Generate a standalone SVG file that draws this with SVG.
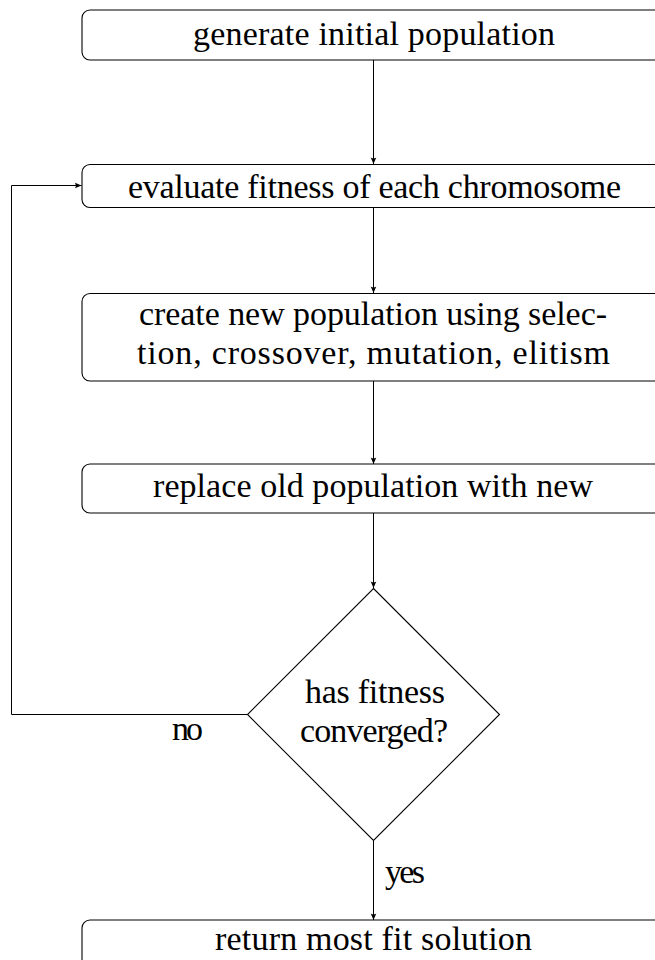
<svg xmlns="http://www.w3.org/2000/svg" width="655" height="960" viewBox="0 0 655 960">
<style>
.box{fill:#fff;stroke:#000;stroke-width:1.1}
.t{font-family:'Liberation Serif','Times New Roman',Times,serif;font-size:34px;fill:#000}
.c{fill:none;stroke:#000;stroke-width:1}
</style>
<defs>
<marker id="ah" markerWidth="10" markerHeight="8" viewBox="-7 -4 8 8" refX="0" refY="0" orient="auto" markerUnits="userSpaceOnUse">
<path d="M0,0 L-6.5,-2.8 Q-4.8,0 -6.5,2.8 Z" fill="#000"/>
</marker>
</defs>
<rect width="655" height="960" fill="#fff"/>
<g id="connectors">
<line class="c" x1="373.5" y1="60" x2="373.5" y2="164" marker-end="url(#ah)"/>
<line class="c" x1="373.5" y1="207" x2="373.5" y2="293" marker-end="url(#ah)"/>
<line class="c" x1="373.5" y1="381" x2="373.5" y2="464" marker-end="url(#ah)"/>
<line class="c" x1="373.5" y1="513" x2="373.5" y2="588" marker-end="url(#ah)"/>
<line class="c" x1="373.5" y1="841" x2="373.5" y2="920" marker-end="url(#ah)"/>
<polyline class="c" points="247,714.5 11.5,714.5 11.5,185.5 81.5,185.5" marker-end="url(#ah)"/>
<text class="t" x="172" y="740" textLength="31">no</text>
<text class="t" x="385" y="883" textLength="40">yes</text>
</g>
<g id="n1">
<rect class="box" x="82" y="10" width="583" height="50" rx="8"/>
<text class="t" x="193" y="45" textLength="362">generate initial population</text>
</g>
<g id="n2">
<rect class="box" x="82" y="164.5" width="583" height="43" rx="8"/>
<text class="t" x="128" y="198" textLength="493">evaluate fitness of each chromosome</text>
</g>
<g id="n3">
<rect class="box" x="82" y="293.5" width="583" height="87.5" rx="8"/>
<text class="t" x="139" y="325" textLength="468">create new population using selec-</text>
<text class="t" x="137" y="364" textLength="473">tion, crossover, mutation, elitism</text>
</g>
<g id="n4">
<rect class="box" x="82" y="464" width="583" height="49" rx="8"/>
<text class="t" x="153" y="497" textLength="440">replace old population with new</text>
</g>
<g id="n5">
<polygon class="box" points="373.5,588.5 499.5,714.5 373.5,840.5 247.5,714.5"/>
<text class="t" x="305" y="703" textLength="140">has fitness</text>
<text class="t" x="300" y="742" textLength="148">converged?</text>
</g>
<g id="n6">
<rect class="box" x="82" y="920" width="583" height="50" rx="8"/>
<text class="t" x="215" y="950" textLength="317">return most fit solution</text>
</g>
</svg>
